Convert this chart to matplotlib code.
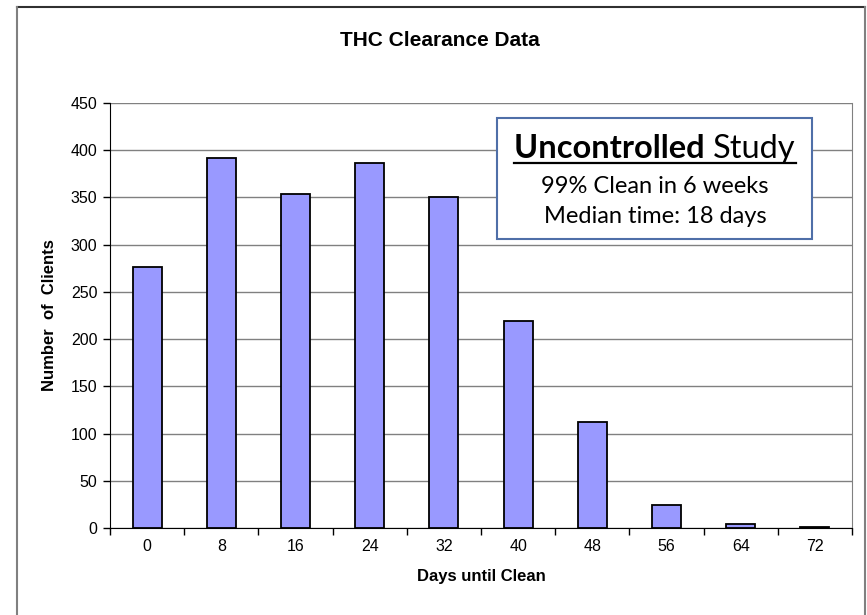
import matplotlib
matplotlib.use("Agg")
import matplotlib.pyplot as plt
from matplotlib.lines import Line2D
from matplotlib.patches import Rectangle
import numpy as np

days = ["0", "8", "16", "24", "32", "40", "48", "56", "64", "72"]
clients = [276, 392, 354, 386, 351, 219, 112, 24, 4, 1]
y_ticks = [0, 50, 100, 150, 200, 250, 300, 350, 400, 450]

W, H = 867, 615
fig = plt.figure(figsize=(W / 100, H / 100), dpi=100)

def fx(px):
    return px / W

def fy(py):
    return 1 - py / H

# outer chart border
fig.add_artist(Line2D([fx(17), fx(865)], [fy(7), fy(7)], color="#303030", lw=1.5))
fig.add_artist(Line2D([fx(17), fx(17)], [fy(7), fy(615)], color="#808080", lw=1.5))
fig.add_artist(Line2D([fx(865), fx(865)], [fy(7), fy(615)], color="#808080", lw=1.5))

ax = fig.add_axes([fx(110), fy(528), fx(852) - fx(110), fy(103) - fy(528)])
x = np.arange(len(days))
ax.bar(x, clients, width=0.39, color="#9999FF", edgecolor="black", linewidth=1.3, zorder=3)
ax.set_xlim(-0.5, len(days) - 0.5)
ax.set_ylim(0, 450)
ax.set_yticks(y_ticks)
ax.set_yticklabels([str(v) for v in y_ticks], fontsize=11.5, family="Liberation Sans")
ax.set_xticks(x)
ax.set_xticklabels(days, fontsize=11.5, family="Liberation Sans")
ax.set_xticks(np.arange(-0.5, len(days) + 0.5, 1), minor=True)
ax.tick_params(axis="x", which="major", length=0, pad=8)
ax.tick_params(axis="x", which="minor", length=5, width=1, direction="out")
ax.tick_params(axis="y", length=5, width=1, direction="out", pad=4)
ax.yaxis.grid(True, color="#808080", lw=1)
ax.set_axisbelow(True)
ax.spines["top"].set_visible(False)
ax.spines["right"].set_color("#808080")
ax.spines["left"].set_color("black")
ax.spines["bottom"].set_color("black")
ax.set_xlabel("Days until Clean", fontsize=12, fontweight="bold", family="Liberation Sans", labelpad=11)
ax.set_ylabel("Number  of  Clients", fontsize=12, fontweight="bold", family="Liberation Sans", labelpad=10)

fig.text(fx(440), fy(40), "THC Clearance Data", fontsize=15, fontweight="bold",
         family="Liberation Sans", ha="center", va="center")

# annotation box
fig.add_artist(Rectangle((fx(497), fy(239)), fx(812) - fx(497), fy(118) - fy(239),
                         transform=fig.transFigure, facecolor="white",
                         edgecolor="#4F6FA8", lw=1.5, zorder=5))
fam = "Lato"
t1 = fig.text(0, fy(158), "Uncontrolled ", fontsize=23.5, fontweight="bold", family=fam,
              ha="left", va="baseline", zorder=6)
t2 = fig.text(0, fy(158), "Study", fontsize=23.5, family=fam, ha="left", va="baseline", zorder=6)
fig.canvas.draw()
r = fig.canvas.get_renderer()
w1 = t1.get_window_extent(r).width
w2 = t2.get_window_extent(r).width
cx = 655
left = cx - (w1 + w2) / 2
t1.set_x(fx(left))
t2.set_x(fx(left + w1))
fig.add_artist(Line2D([fx(left), fx(left + w1 + w2)], [fy(163), fy(163)],
                      color="black", lw=1.6, zorder=6))
fig.text(fx(cx), fy(193), "99% Clean in 6 weeks", fontsize=17, family=fam,
         ha="center", va="baseline", zorder=6)
fig.text(fx(cx), fy(223), "Median time: 18 days", fontsize=17, family=fam,
         ha="center", va="baseline", zorder=6)

fig.savefig("out.png", dpi=100)
